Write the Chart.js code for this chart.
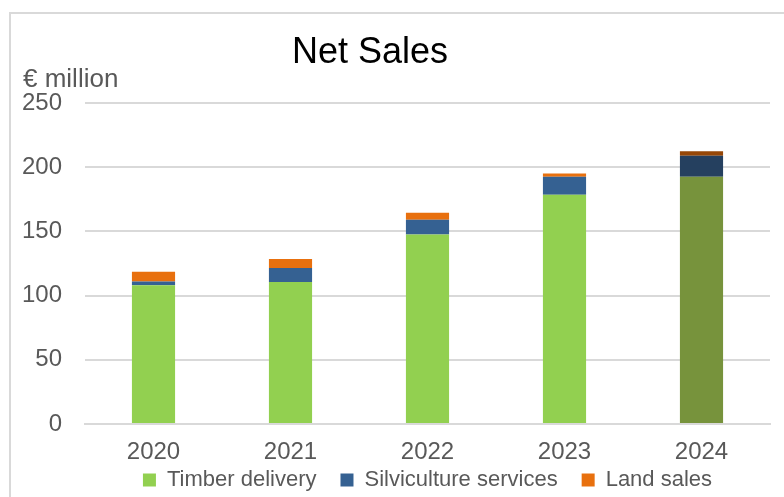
<!DOCTYPE html>
<html>
<head>
<meta charset="utf-8">
<script src="https://cdn.jsdelivr.net/npm/chart.js@4.4.1/dist/chart.umd.min.js"></script>
<style>
  html, body { margin: 0; padding: 0; background: #fff; }
  #wrap { width: 784px; height: 497px; position: relative; }
</style>
</head>
<body>
<div id="wrap"><canvas id="netSales" width="784" height="497"></canvas></div>
<script>
// datos (millones de euros)
var years = ['2020', '2021', '2022', '2023', '2024'];
var timberDelivery = [108, 110.5, 147.5, 178.5, 192.5];
var silvicultureServices = [3, 11, 11.5, 14, 16.5];
var landSales = [7.5, 7, 5.5, 2.5, 3.5];
var yTicks = [0, 50, 100, 150, 200, 250];

var FONT = "'Liberation Sans', Arial, sans-serif";
var GREY = '#595959';

// el ultimo anio va en tonos oscuros
function colores(normal, oscuro){
    var c = [];
    for(var i = 0; i < years.length; i++){
        c.push(i == years.length - 1 ? oscuro : normal);
    }
    return c;
}

// marco, titulo y unidad
var decoraciones = {
    id: 'decoraciones',
    // sube el legend para que quede pegado a las etiquetas del eje x
    afterLayout: function(chart){
        if(chart.legend){
            chart.legend.top -= 22;
            chart.legend.bottom -= 22;
        }
    },
    beforeDraw: function(chart){
        var ctx = chart.ctx;
        ctx.save();
        ctx.strokeStyle = '#d9d9d9';
        ctx.lineWidth = 2;
        ctx.beginPath();
        ctx.moveTo(10, 497);
        ctx.lineTo(10, 13);
        ctx.lineTo(784, 13);
        ctx.stroke();
        ctx.restore();
    },
    afterDraw: function(chart){
        var ctx = chart.ctx;
        ctx.save();
        ctx.fillStyle = '#000';
        ctx.font = '36px ' + FONT;
        ctx.textAlign = 'center';
        ctx.textBaseline = 'alphabetic';
        ctx.fillText('Net Sales', 370, 63);
        ctx.fillStyle = GREY;
        ctx.font = '26px ' + FONT;
        ctx.textAlign = 'left';
        ctx.fillText('€ million', 23, 87);
        ctx.restore();
    }
};

var barChartCanvas = document.getElementById('netSales').getContext('2d');
var barChart = new Chart(barChartCanvas, {
    type: 'bar',
    data: {
        labels: years,
        datasets: [
            {
                label: 'Timber delivery',
                data: timberDelivery,
                backgroundColor: colores('#92D050', '#77933C')
            },
            {
                label: 'Silviculture services',
                data: silvicultureServices,
                backgroundColor: colores('#356192', '#25405F')
            },
            {
                label: 'Land sales',
                data: landSales,
                backgroundColor: colores('#E8700E', '#964707')
            }
        ]
    },
    options: {
        responsive: false,
        animation: false,
        layout: { padding: { top: 103, right: 14, left: 0, bottom: -26 } },
        datasets: { bar: { categoryPercentage: 1, barPercentage: 0.315 } },
        plugins: {
            title: { display: false },
            tooltip: { enabled: false },
            legend: {
                display: true,
                position: 'bottom',
                fullSize: false,
                labels: {
                    boxWidth: 13,
                    boxHeight: 13,
                    padding: 24,
                    color: GREY,
                    font: { family: FONT, size: 22 },
                    // la caja del legend usa el color normal, no el de 2024
                    generateLabels: function(chart){
                        var items = Chart.defaults.plugins.legend.labels.generateLabels(chart);
                        items.forEach(function(it, i){
                            var c = chart.data.datasets[i].backgroundColor[0];
                            it.fillStyle = c;
                            it.strokeStyle = c;
                            it.lineWidth = 0;
                        });
                        return items;
                    }
                }
            }
        },
        scales: {
            x: {
                stacked: true,
                afterFit: function(scale){ scale.height = 43; },
                grid: { display: false, drawTicks: false },
                border: { display: true, color: '#d9d9d9', width: 2 },
                ticks: { color: GREY, font: { family: FONT, size: 24 }, padding: 14 }
            },
            y: {
                stacked: true,
                min: yTicks[0],
                max: yTicks[yTicks.length - 1],
                afterFit: function(scale){ scale.width = 85; },
                afterBuildTicks: function(scale){
                    scale.ticks = yTicks.map(function(v){ return { value: v }; });
                },
                grid: { color: '#d9d9d9', lineWidth: 2, drawTicks: false },
                border: { display: false },
                ticks: { color: GREY, font: { family: FONT, size: 24 }, padding: 23 }
            }
        }
    },
    plugins: [decoraciones]
});
</script>
</body>
</html>
